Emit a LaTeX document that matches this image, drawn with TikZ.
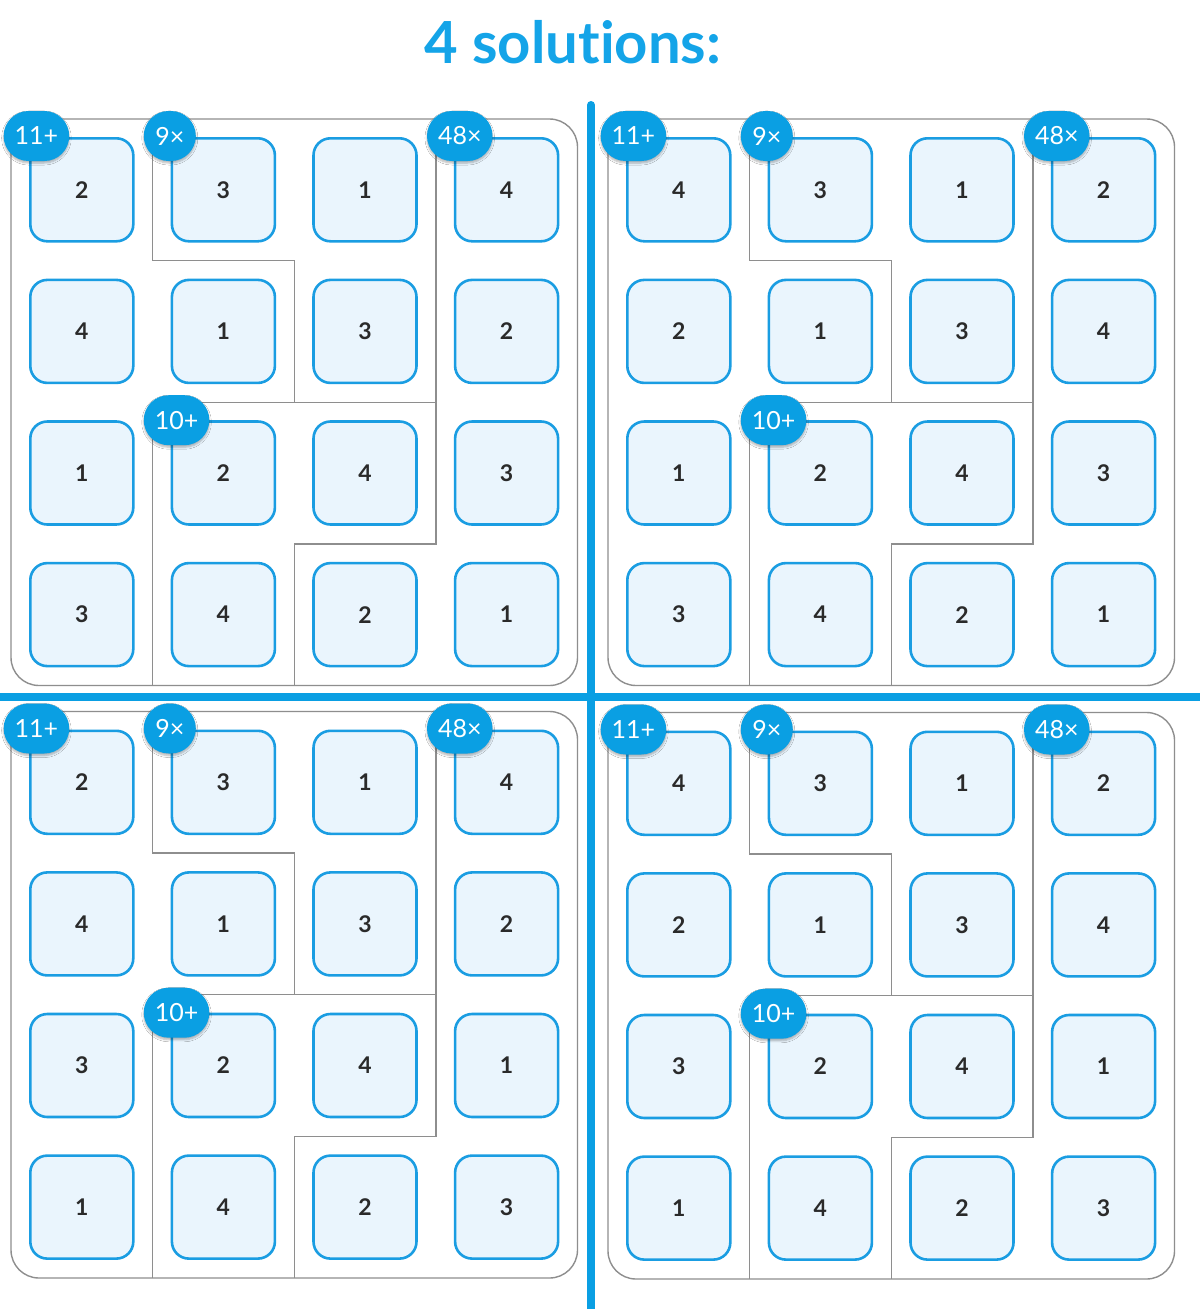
\documentclass[tikz,border=0pt]{standalone}
\usepackage{fontspec}
\setmainfont{Lato}[Ligatures={NoCommon}]
\usetikzlibrary{shadows.blur}
\definecolor{sky}{HTML}{0A9FE3}
\definecolor{titleblue}{HTML}{14A4E8}
\definecolor{tilefill}{HTML}{EAF5FD}
\definecolor{tileedge}{HTML}{1A9DE2}
\definecolor{cagegray}{HTML}{8E8E8E}
\definecolor{numtext}{HTML}{2A2A2A}
\tikzset{
  tilebox/.style={draw=tileedge, line width=2.6pt, fill=tilefill, rounded corners=17pt,
    minimum width=103pt, minimum height=103pt, inner sep=0pt,
    font=\fontsize{23}{23}\selectfont\bfseries, text=numtext},
  badge/.style={fill=sky, rounded corners=24.9pt, minimum height=50pt, minimum width=52pt,
    inner xsep=11pt, inner ysep=2pt, text=white, font=\fontsize{25}{25}\selectfont, anchor=west,
    blur shadow={shadow blur steps=6, shadow xshift=0pt, shadow yshift=-2pt, shadow opacity=30}},
  panelbox/.style={draw=cagegray, line width=1.4pt, rounded corners=28pt},
  cage/.style={draw=cagegray, line width=1.4pt},
  divider/.style={draw=sky, line width=8pt}
}
\newcommand\cs{141.6}
\newcommand\solpanel[4]{%
  \begin{scope}[shift={(#2,#3)}]
    \draw[panelbox] (0,0) rectangle (566.5,566.5);
    \draw[cage] (\cs,0) -- (\cs,\cs) -- (2*\cs,\cs) -- (2*\cs,2*\cs);
    \draw[cage] (\cs,566.5) -- (\cs,2*\cs) -- (3*\cs,2*\cs);
    \draw[cage] (3*\cs,0) -- (3*\cs,3*\cs) -- (2*\cs,3*\cs) -- (2*\cs,566.5);
    \foreach \v [count=\k from 0] in {#4} {
      \pgfmathtruncatemacro\rr{int(\k/4)}
      \pgfmathtruncatemacro\cc{mod(\k,4)}
      \node[tilebox] (p#1-\rr-\cc) at ({(\cc+0.5)*\cs},{(\rr+0.5)*\cs}) {\v};
    }
    \node[badge] (p#1-b11) at (-7.5,17) {11+};
    \node[badge] (p#1-b9) at (\cs-9,17) {9×};
    \node[badge] (p#1-b48) at (3*\cs-9,17) {48×};
    \node[badge] (p#1-b10) at (\cs-9,2*\cs+18) {10+};
  \end{scope}}
\begin{document}
\begin{tikzpicture}[x=1pt,y=-1pt]
  \useasboundingbox[fill=white] (0,0) rectangle (1200,1309);
  \node[anchor=base, text=titleblue, font=\fontsize{58}{58}\selectfont\bfseries] (title) at (573,63) {4 solutions:};
  \solpanel{1}{11}{119}{2,3,1,4,4,1,3,2,1,2,4,3,3,4,2,1}
  \solpanel{2}{608}{119}{4,3,1,2,2,1,3,4,1,2,4,3,3,4,2,1}
  \solpanel{3}{11}{711.5}{2,3,1,4,4,1,3,2,3,2,4,1,1,4,2,3}
  \solpanel{4}{608}{712.5}{4,3,1,2,2,1,3,4,3,2,4,1,1,4,2,3}
  \coordinate (vtop) at (591,105);
  \coordinate (vbot) at (591,1312);
  \coordinate (hleft) at (0,697);
  \coordinate (hright) at (1200,697);
  \draw[divider, line cap=round] (vtop) -- (vbot);
  \draw[divider] (hleft) -- (hright);
\end{tikzpicture}
\end{document}
